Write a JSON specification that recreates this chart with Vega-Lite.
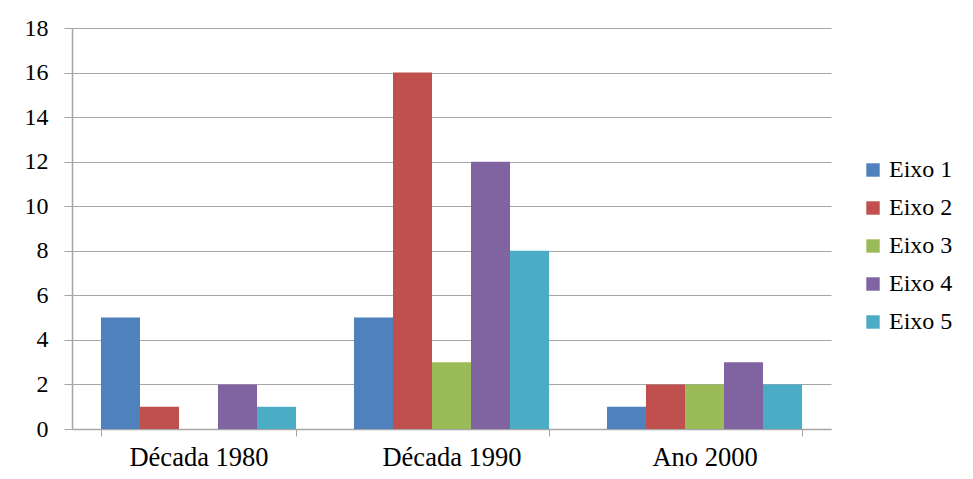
{
  "$schema": "https://vega.github.io/schema/vega-lite/v6.json",
  "autosize": {"type": "none"},
  "padding": {"left": 72, "top": 28, "right": 142, "bottom": 50},
  "width": 759,
  "height": 401,
  "background": "white",
  "config": {
    "font": "'Liberation Serif', 'Times New Roman', Times, serif",
    "view": {"stroke": null},
    "axis": {"labelFont": "'Liberation Serif', 'Times New Roman', Times, serif", "labelColor": "black", "domainColor": "#a6a6a6", "tickColor": "#a6a6a6", "gridColor": "#a6a6a6"},
    "legend": {"labelFont": "'Liberation Serif', 'Times New Roman', Times, serif"}
  },
  "data": {
    "values": [
      {"periodo": "Década 1980", "serie": "Eixo 1", "valor": 5},
      {"periodo": "Década 1980", "serie": "Eixo 2", "valor": 1},
      {"periodo": "Década 1980", "serie": "Eixo 3", "valor": 0},
      {"periodo": "Década 1980", "serie": "Eixo 4", "valor": 2},
      {"periodo": "Década 1980", "serie": "Eixo 5", "valor": 1},
      {"periodo": "Década 1990", "serie": "Eixo 1", "valor": 5},
      {"periodo": "Década 1990", "serie": "Eixo 2", "valor": 16},
      {"periodo": "Década 1990", "serie": "Eixo 3", "valor": 3},
      {"periodo": "Década 1990", "serie": "Eixo 4", "valor": 12},
      {"periodo": "Década 1990", "serie": "Eixo 5", "valor": 8},
      {"periodo": "Ano 2000", "serie": "Eixo 1", "valor": 1},
      {"periodo": "Ano 2000", "serie": "Eixo 2", "valor": 2},
      {"periodo": "Ano 2000", "serie": "Eixo 3", "valor": 2},
      {"periodo": "Ano 2000", "serie": "Eixo 4", "valor": 3},
      {"periodo": "Ano 2000", "serie": "Eixo 5", "valor": 2}
    ]
  },
  "mark": {"type": "bar"},
  "encoding": {
    "x": {
      "field": "periodo", "type": "nominal",
      "sort": ["Década 1980", "Década 1990", "Ano 2000"],
      "scale": {"paddingInner": 0.229, "paddingOuter": 0.1145},
      "axis": {"title": null, "labelAngle": 0, "labelFontSize": 26.5, "tickBand": "extent", "tickSize": 7, "labelPadding": 8, "domainWidth": 1.5}
    },
    "xOffset": {
      "field": "serie", "type": "nominal",
      "scale": {"paddingInner": 0, "paddingOuter": 0}
    },
    "y": {
      "field": "valor", "type": "quantitative",
      "scale": {"domain": [0, 18], "nice": false},
      "axis": {"title": null, "values": [0, 2, 4, 6, 8, 10, 12, 14, 16, 18], "labelFontSize": 24, "tickSize": 8, "labelPadding": 16, "grid": true, "gridWidth": 1, "domainWidth": 1.5}
    },
    "color": {
      "field": "serie", "type": "nominal",
      "scale": {"domain": ["Eixo 1", "Eixo 2", "Eixo 3", "Eixo 4", "Eixo 5"], "range": ["#4F81BD", "#C0504D", "#9BBB59", "#8064A2", "#4BACC6"]},
      "legend": {"title": null, "orient": "none", "legendX": 789, "legendY": 130, "symbolType": "square", "symbolSize": 180, "symbolStrokeWidth": 0, "labelFontSize": 24, "labelColor": "black", "labelOffset": 4, "rowPadding": 14}
    }
  }
}
